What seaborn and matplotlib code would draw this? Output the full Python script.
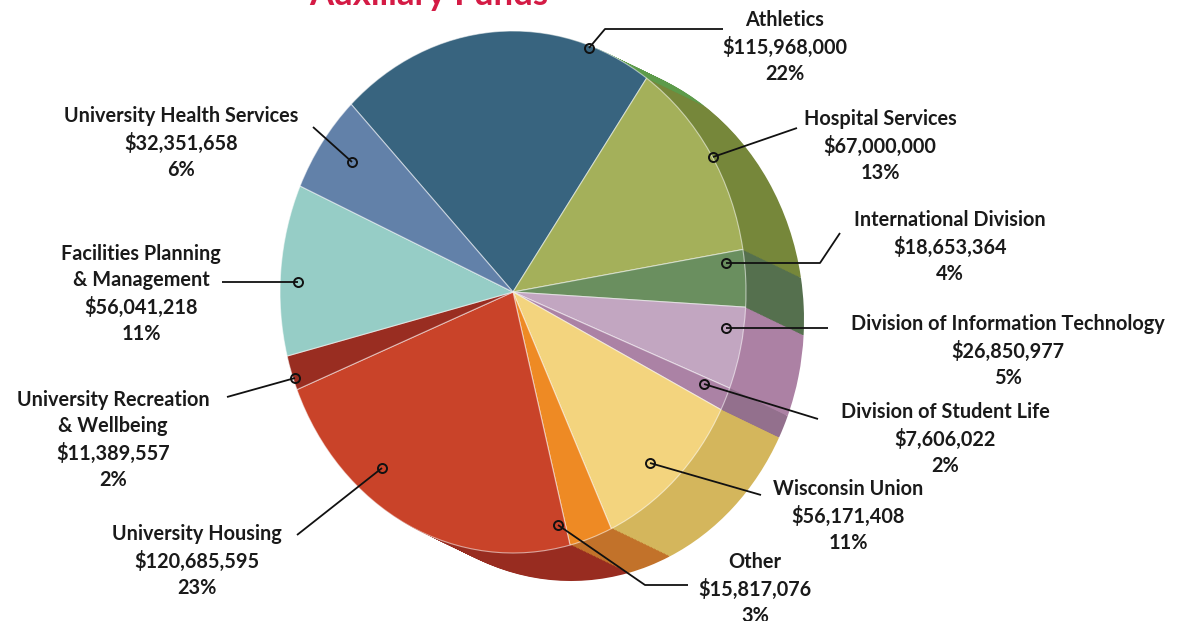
import matplotlib
matplotlib.use('Agg')
import matplotlib.pyplot as plt
import seaborn as sns

# data
departments = ['Athletics', 'Hospital Services', 'International Division',
               'Division of Information Technology', 'Division of Student Life',
               'Wisconsin Union', 'Other', 'University Housing',
               'University Recreation\n& Wellbeing', 'Facilities Planning\n& Management',
               'University Health Services']
amounts = [115968000, 67000000, 18653364, 26850977, 7606022, 56171408,
           15817076, 120685595, 11389557, 56041218, 32351658]
percents = [22, 13, 4, 5, 2, 11, 3, 23, 2, 11, 6]

top_colors = ['#38647f', '#a4b05a', '#6a8f5f', '#c2a6c1', '#ab82a5', '#f3d47e',
              '#ee8a24', '#c94329', '#992d21', '#96cdc6', '#6281a9']
side_colors = ['#5d9b4a', '#76873a', '#55704e', '#ac81a4', '#93708d', '#d4b65c',
               '#c2722a', '#982c20', '#7a2219', '#73a9a2', '#4b6a90']

# layout (image pixels, y from top)
W, H = 1178, 621
S = 261 / 233          # vertical stretch of the pie
cx, cy, R = 513, 292, 233
depth = (58, 28)
text_pos = [(785, 47), (880, 146), (950, 247), (1008, 351), (945, 439), (848, 516),
            (755, 589), (197, 561), (113, 440), (141, 294), (181, 143)]
leaders = [
    [(589, 48), (605, 29), (723, 29)],
    [(713, 157), (797, 128)],
    [(726, 263), (820, 263), (840, 233)],
    [(726, 328), (828, 328)],
    [(704, 384), (818, 419)],
    [(650, 463), (761, 495)],
    [(558, 525), (645, 585), (688, 585)],
    [(382, 468), (297, 535)],
    [(295, 378), (227, 397)],
    [(298, 282), (222, 282)],
    [(352, 162), (313, 127)],
]

sns.set_theme(style='white')
plt.rcParams['font.family'] = ['Lato', 'DejaVu Sans']

fig = plt.figure(figsize=(W / 100, H / 100), dpi=100)
ax = fig.add_axes([0, 0, 1, 1])

# extruded side: stack darker pies from the bottom up
n_layers = 40
for k in range(n_layers, 0, -1):
    t = k / n_layers
    ax.pie(amounts, colors=side_colors, startangle=-134, counterclock=True,
           center=(cx + depth[0] * t, (cy + depth[1] * t) / S), radius=R,
           wedgeprops=dict(linewidth=0), frame=False)

# top face
ax.pie(amounts, colors=top_colors, startangle=-134, counterclock=True,
       center=(cx, cy / S), radius=R,
       wedgeprops=dict(linewidth=0.8, edgecolor=(1, 1, 1, 0.55)), frame=False)

for name, amt, pct, (tx, ty), path in zip(departments, amounts, percents, text_pos, leaders):
    xs = [p[0] for p in path]
    ys = [p[1] / S for p in path]
    ax.plot(xs, ys, color='#111111', lw=1.3, solid_capstyle='butt', zorder=5)
    ax.plot(xs[0], ys[0], marker='o', ms=6.5, mfc='none', mec='#111111', mew=1.4, zorder=6)
    ax.text(tx, ty / S, f'{name}\n${amt:,}\n{pct}%', ha='center', va='center',
            multialignment='center', fontsize=14.3, fontweight='bold',
            color='#1a1a1a', linespacing=1.38, zorder=7)

ax.text(429, 5 / S, 'Auxiliary Funds', ha='center', va='baseline', fontsize=25,
        fontweight='bold', color='#d41b45')

ax.set_aspect('auto')
ax.set_xlim(0, W)
ax.set_ylim(H / S, 0)
ax.axis('off')

fig.savefig('out.png', dpi=100)
